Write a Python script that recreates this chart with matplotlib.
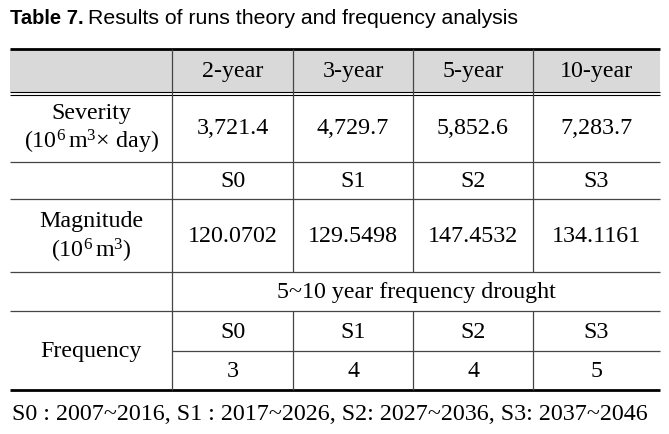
import matplotlib.pyplot as plt
from matplotlib.patches import Rectangle

plt.rcParams['mathtext.fontset'] = 'custom'
plt.rcParams['mathtext.rm'] = 'Liberation Serif'
plt.rcParams['mathtext.it'] = 'Liberation Serif:italic'

# table contents
periods = ['2-year', '3-year', '5-year', '10-year']
severity = [3721.4, 4729.7, 5852.6, 7283.7]
scenarios = ['S0', 'S1', 'S2', 'S3']
magnitude = [120.0702, 129.5498, 147.4532, 134.1161]
frequency = [3, 4, 4, 5]
note = 'S0 : 2007~2016, S1 : 2017~2026, S2: 2027~2036, S3: 2037~2046'

W, H = 669, 434
fig = plt.figure(figsize=(W / 100, H / 100), dpi=100)
ax = fig.add_axes([0, 0, 1, 1])
ax.set_xlim(0, W)
ax.set_ylim(H, 0)
ax.axis('off')

# grid in pixels
col_x = [10, 172, 293, 413, 533, 660]
row_y = [49, 93, 162, 199, 272, 311, 351, 390]
serif = 'Liberation Serif'
fs = 17.3
grey = '#444444'

# header band
ax.add_patch(Rectangle((col_x[0], row_y[0]), col_x[-1] - col_x[0], 43,
                       facecolor='#d9d9d9', edgecolor='none'))

# horizontal rules
ax.hlines([row_y[0], row_y[-1]], col_x[0], col_x[-1], color='black', lw=2.0)
ax.hlines([91.5, 94.8], col_x[0], col_x[-1], color='black', lw=0.8)
ax.hlines(row_y[2:6], col_x[0], col_x[-1], color=grey, lw=0.9)
ax.hlines(row_y[6], col_x[1], col_x[-1], color=grey, lw=0.9)

# vertical rules
ax.vlines(col_x[1], row_y[0], row_y[-1], color=grey, lw=0.9)
ax.vlines(col_x[2:5], row_y[0], row_y[4], color=grey, lw=0.9)
ax.vlines(col_x[2:5], row_y[5], row_y[-1], color=grey, lw=0.9)

centers = [(col_x[i] + col_x[i + 1]) / 2 for i in range(1, 5)]


def cell(x, y, s):
    ax.text(x, y, s, ha='center', va='center', family=serif, fontsize=fs)


for i, c in enumerate(centers):
    cell(c, 72, periods[i])
    cell(c, 129, f'{severity[i]:,.1f}')
    cell(c, 181.5, scenarios[i])
    cell(c, 237, f'{magnitude[i]:.4f}')
    cell(c, 332, scenarios[i])
    cell(c, 371.5, str(frequency[i]))

c0 = (col_x[0] + col_x[1]) / 2
cell(c0, 113, 'Severity')
cell(c0, 142, r'(10$^{6}\,$m$^{3}$$\times$ day)')
cell(c0, 222, 'Magnitude')
cell(c0, 251, r'(10$^{6}\,$m$^{3}$)')
cell(c0, 352, 'Frequency')
cell((col_x[1] + col_x[-1]) / 2, 292.5, '5~10 year frequency drought')

# title and note
fams = ['Liberation Sans Narrow', 'Liberation Sans', 'DejaVu Sans']
ax.text(10, 18, 'Table 7.', ha='left', va='center', family=fams,
        fontsize=14.5, fontweight='bold')
ax.text(88, 18, 'Results of runs theory and frequency analysis', ha='left',
        va='center', family=fams, fontsize=15.3)
ax.text(12, 414, note, ha='left', va='center', family=serif, fontsize=fs)

fig.savefig('out.png', dpi=100)
